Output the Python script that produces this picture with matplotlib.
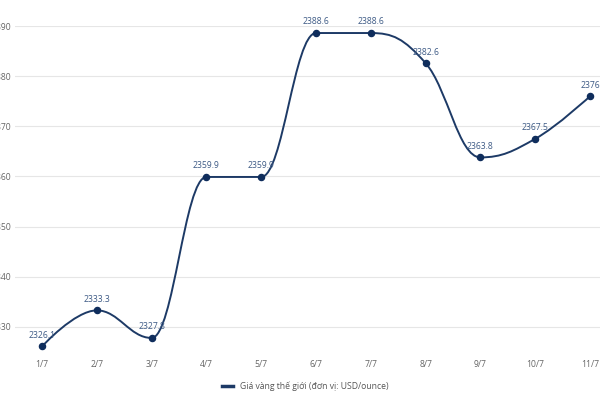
import matplotlib
matplotlib.use("Agg")
import matplotlib.pyplot as plt
from matplotlib.path import Path
from matplotlib.patches import PathPatch
from matplotlib.lines import Line2D

dates = ["1/7", "2/7", "3/7", "4/7", "5/7", "6/7", "7/7", "8/7", "9/7", "10/7", "11/7"]
prices = [2326.1, 2333.3, 2327.8, 2359.9, 2359.9, 2388.6, 2388.6, 2382.6, 2363.8, 2367.5, 2376]
labels = ["2326.1", "2333.3", "2327.8", "2359.9", "2359.9", "2388.6", "2388.6", "2382.6", "2363.8", "2367.5", "2376"]
yticks = [2330, 2340, 2350, 2360, 2370, 2380, 2390]
series_name = "Giá vàng thế giới (đơn vị: USD/ounce)"

plt.rcParams['font.family'] = ['Open Sans', 'DejaVu Sans']

LINE = "#1d3a66"
DOT = "#0f2d5c"
LBL = "#3d5a85"

fig = plt.figure(figsize=(6, 4), dpi=100)
W, H = 600, 400
left, right = 14.6, 617.4
top, bottom = 26.0, 352.0
ax = fig.add_axes([left / W, 1 - bottom / H, (right - left) / W, (bottom - top) / H])
ax.set_xlim(-0.5, len(dates) - 0.5)
ax.set_ylim(2325, 2390)

# Highcharts-style spline
xs = list(range(len(prices)))
ys = prices
sm, den = 1.5, 2.5
lc = [None] * len(xs)
rc = [None] * len(xs)
for i in range(len(xs)):
    if 0 < i < len(xs) - 1:
        px, py = xs[i], ys[i]
        lx, ly = xs[i - 1], ys[i - 1]
        nx, ny = xs[i + 1], ys[i + 1]
        lcx = (sm * px + lx) / den
        lcy = (sm * py + ly) / den
        rcx = (sm * px + nx) / den
        rcy = (sm * py + ny) / den
        if rcx != lcx:
            corr = ((rcy - lcy) * (rcx - px)) / (rcx - lcx) + py - rcy
            lcy += corr
            rcy += corr
        if lcy > ly and lcy > py:
            lcy = max(ly, py); rcy = 2 * py - lcy
        elif lcy < ly and lcy < py:
            lcy = min(ly, py); rcy = 2 * py - lcy
        if rcy > ny and rcy > py:
            rcy = max(ny, py); lcy = 2 * py - rcy
        elif rcy < ny and rcy < py:
            rcy = min(ny, py); lcy = 2 * py - rcy
        lc[i] = (lcx, lcy)
        rc[i] = (rcx, rcy)
verts = [(xs[0], ys[0])]
codes = [Path.MOVETO]
for i in range(1, len(xs)):
    c1 = rc[i - 1] if rc[i - 1] else (xs[i - 1], ys[i - 1])
    c2 = lc[i] if lc[i] else (xs[i], ys[i])
    verts += [c1, c2, (xs[i], ys[i])]
    codes += [Path.CURVE4] * 3
ax.add_patch(PathPatch(Path(verts, codes), fill=False, edgecolor=LINE, lw=1.4, zorder=3))
ax.plot(xs, ys, linestyle='none', marker='o', markersize=4.4, color=DOT, zorder=4)

for x, y, t in zip(xs, ys, labels):
    ax.annotate(t, (x, y), xytext=(0, 8), textcoords='offset points', ha='center', va='center',
                fontsize=6.2, color=LBL, zorder=5)

ax.set_yticks(yticks)
ax.set_xticks(xs)
ax.set_xticklabels(dates)
ax.grid(axis='y', color='#e6e6e6', lw=0.8)
ax.set_axisbelow(True)
for s in ax.spines.values():
    s.set_visible(False)
ax.tick_params(axis='both', length=0, labelsize=6.2, colors='#666666')
ax.tick_params(axis='y', pad=2.6)
ax.tick_params(axis='x', pad=5.5)

handle = Line2D([0], [0], color=LINE, lw=2.5)
fig.legend([handle], [series_name], loc='center', bbox_to_anchor=(305 / W, 1 - 386 / H),
           frameon=False, fontsize=6.2, labelcolor='#555555', handlelength=1.3, handletextpad=0.8)

fig.savefig("out.png", dpi=100)
